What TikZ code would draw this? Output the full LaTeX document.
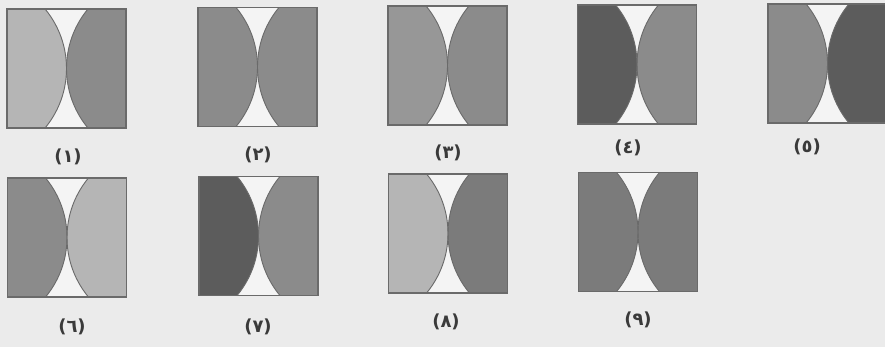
\documentclass[tikz,border=0pt]{standalone}
\usepackage{fontspec}
\newfontfamily\arabicfont[Script=Arabic]{DejaVu Sans}
\definecolor{bgc}{HTML}{EBEBEB}
\definecolor{gapc}{HTML}{F4F4F4}
\definecolor{edgec}{HTML}{6A6A6A}
\definecolor{labc}{HTML}{3A3A3A}
\definecolor{gL}{HTML}{B5B5B5}
\definecolor{gM}{HTML}{8B8B8B}
\definecolor{gML}{HTML}{979797}
\definecolor{gMD}{HTML}{7B7B7B}
\definecolor{gD}{HTML}{5C5C5C}
\tikzset{
  tilebox/.style={draw=edgec, line width=1.1pt, minimum size=119pt, inner sep=0pt, outer sep=0pt},
  lenslabel/.style={font=\arabicfont\bfseries\fontsize{18}{22}\selectfont, text=labc, inner sep=0pt},
}
% \tile{name}{cx}{cy}{left colour}{right colour}
\newcommand{\tile}[5]{%
  \node[tilebox, fill=gapc] (#1) at (#2,#3) {};
  \begin{scope}
    \clip (#1.south west) rectangle (#1.north east);
    \fill[#4] ([xshift=-93.3pt]#1.center) circle[radius=93.3pt];
    \fill[#5] ([xshift=93.3pt]#1.center) circle[radius=93.3pt];
    \draw[edgec, line width=0.9pt] ([xshift=-93.3pt]#1.center) circle[radius=93.3pt];
    \draw[edgec, line width=0.9pt] ([xshift=93.3pt]#1.center) circle[radius=93.3pt];
  \end{scope}
  \node[tilebox] at (#1.center) {};
}
\begin{document}
\begin{tikzpicture}[x=1pt,y=-1pt]
\useasboundingbox (0,0) rectangle (885,347);
\fill[bgc] (0,0) rectangle (885,347);
\tile{t1}{66.5}{68.5}{gL}{gM}
\tile{t2}{257.5}{67}{gM}{gM}
\tile{t3}{447.5}{65.5}{gML}{gM}
\tile{t4}{637}{64.5}{gD}{gM}
\tile{t5}{827.5}{63.5}{gM}{gD}
\tile{t6}{67}{237.5}{gM}{gL}
\tile{t7}{258.5}{236}{gD}{gM}
\tile{t8}{448}{233.5}{gL}{gMD}
\tile{t9}{638}{232}{gMD}{gMD}
\node[lenslabel] (l1) at (68,157) {(١)};
\node[lenslabel] (l2) at (258,155) {(٢)};
\node[lenslabel] (l3) at (448,153) {(٣)};
\node[lenslabel] (l4) at (628,148) {(٤)};
\node[lenslabel] (l5) at (807,147) {(٥)};
\node[lenslabel] (l6) at (72,327) {(٦)};
\node[lenslabel] (l7) at (258,327) {(٧)};
\node[lenslabel] (l8) at (446,322) {(٨)};
\node[lenslabel] (l9) at (638,320) {(٩)};
\end{tikzpicture}
\end{document}
